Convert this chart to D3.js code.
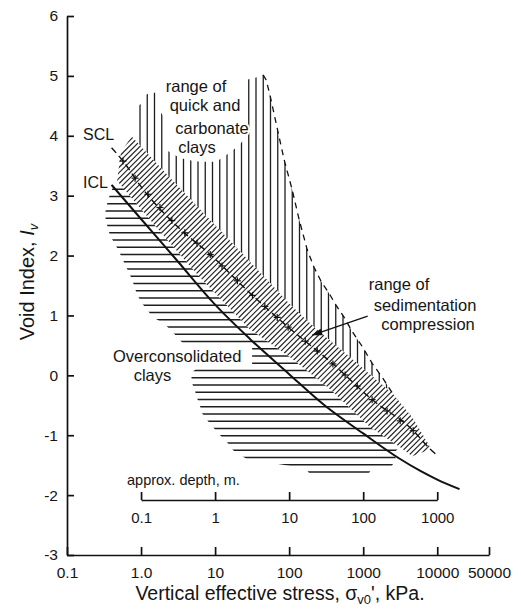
<!DOCTYPE html>
<html><head><meta charset="utf-8">
<script src="https://cdn.jsdelivr.net/npm/d3@7"></script>
<style>
body{margin:0;background:#fff}
svg{display:block}
text{font-family:"Liberation Sans",Arial,Helvetica,sans-serif;fill:#151515}
</style>
</head><body>
<svg id="c" width="521" height="610"></svg>
<script>
// ---------- data ----------
const xTicks = [0.1, 1, 10, 100, 1000, 10000, 50000];
const xTickLabels = ["0.1", "1.0", "10", "100", "1000", "10000", "50000"];
const yTicks = [-3, -2, -1, 0, 1, 2, 3, 4, 5, 6];
const depthTicks = [0.1, 1, 10, 100, 1000];
const depthTickLabels = ["0.1", "1", "10", "100", "1000"];

// Intrinsic compression line (stress kPa, void index)
const icl = [[0.4,3.18],[1,2.61],[3,1.93],[10,1.18],[30,0.6],[100,0.02],[300,-0.5],
             [1000,-0.97],[3000,-1.38],[6000,-1.6],[10000,-1.74],[20000,-1.9]];
// Sedimentation compression line
const scl = [[0.4,3.8],[0.577,3.57],[1,3.15],[3,2.5],[8.55,2.02],[31,1.35],[98,0.8],
             [400,0.18],[1300,-0.4],[4800,-0.93],[8000,-1.23],[10300,-1.35]];
const sclMarks = [0.57,0.83,1.24,1.8,2.6,3.9,5.7,8.6,12.4,20,32,47,69,97,165,240,390,570,830,1320,2100,3160,4740];
// range of sedimentation compression (band)
const bandUpper = [[0.748,3.988],[2.466,3.3],[6.27,2.767],[18.63,2.158],[55.4,1.54],[103.2,1.183],
                   [236.7,0.767],[667,0.3],[2543,-0.317],[4595,-0.7],[8043,-1.2]];
const bandLower = [[0.537,3.733],[0.474,3.25],[1.806,2.4],[6.27,1.633],[29.7,0.767],[103.2,0.3],
                   [358,-0.233],[1243,-0.867],[3162,-1.2],[4595,-1.35],[8043,-1.233]];
// range of quick and carbonate clays: upper outline and dashed right edge
const quickTop = [[0.856,3.883],[0.856,4.467],[1.0,4.533],[1.098,4.667],[1.323,4.717],[1.697,4.717],
                  [1.751,4.433],[1.983,4.333],[2.177,3.767],[2.624,3.7],[3.162,3.65],[4.056,3.6],
                  [6.27,3.567],[10,3.567],[12.83,3.633],[15.46,3.717],[19.22,3.8],[22.46,3.883],
                  [25.43,3.95],[25.83,4.933],[31.62,4.958],[38.11,4.983]];
const quickEdge = [[44.53,5.017],[48.9,4.933],[55.4,4.667],[68.8,4.133],[85.6,3.6],[109.8,3.1],
                   [136.5,2.6],[175.1,2.1],[217.7,1.8],[270.6,1.567],[347.1,1.367],[431.7,1.167],
                   [553.6,0.967],[710.1,0.733],[969,0.483],[1323,0.2],[1806,-0.033],[2543,-0.317]];
// overconsolidated clays: left outline (top to bottom) and lower right corner
const ocLeft = [[0.418,3.15],[0.358,2.933],[0.326,2.7],[0.3365,2.567],[0.381,2.333],[0.489,2.1],
                [0.608,1.85],[0.756,1.6],[0.883,1.35],[1.032,1.2],[1.205,1.1],[1.408,0.983],
                [2.11,0.85],[2.707,0.717],[3.695,0.533],[31.62,0.533],[31.62,0.15],[6.08,0.15],
                [4.74,0.033],[4.89,-0.133],[5.37,-0.267],[5.71,-0.383],[6.27,-0.517],[6.67,-0.633],
                [8.04,-0.767],[9.4,-0.867],[11.68,-1.0],[14.53,-1.117],[17.51,-1.25],[27.07,-1.4],
                [55.4,-1.458],[164.5,-1.55],[192.2,-1.65]];
const ocRight = [[1168,-1.65],[1323,-1.55],[2390,-1.517],[2792,-1.417],[2624,-1.283],[3365,-1.167]];
const arrowFrom = [1150, 0.99], arrowTo = [205, 0.67];

// ---------- scales ----------
const svg = d3.select("#c");
const x = d3.scaleLog().domain([0.1, 50000]).range([67, 489]);
const y = d3.scaleLinear().domain([-3, 6]).range([555, 16]);
const xd = d3.scaleLog().domain([0.1, 1000]).range([x(1), x(10000)]);
const pt = d => [x(d[0]), y(d[1])];
const poly = pts => "M" + pts.map(d => pt(d).join(",")).join("L") + "Z";
const line = d3.line().x(d => x(d[0])).y(d => y(d[1]));
const defs = svg.append("defs");
const ink = "#1e1e1e";

function clip(id, pts){
  defs.append("clipPath").attr("id", id).append("path").attr("d", poly(pts));
}
clip("quickClip", quickTop.concat(quickEdge, bandUpper.slice(0,9).reverse()));
clip("ocClip", ocLeft.concat(ocRight, bandUpper.slice().reverse()));
clip("bandClip", bandUpper.concat(bandLower.slice().reverse()));

// vertical hatch
const gq = svg.append("g").attr("clip-path","url(#quickClip)")
  .attr("stroke", ink).attr("stroke-width", 1.3);
for (let px = 140; px < 420; px += 7.25)
  gq.append("line").attr("x1", px).attr("x2", px).attr("y1", 60).attr("y2", 420);

// horizontal hatch
const go = svg.append("g").attr("clip-path","url(#ocClip)")
  .attr("stroke", ink).attr("stroke-width", 1.3);
for (let py = 189.25; py < 480; py += 7.25)
  go.append("line").attr("x1", 90).attr("x2", 430).attr("y1", py).attr("y2", py);

// band
svg.append("path").attr("d", poly(bandUpper.concat(bandLower.slice().reverse())))
  .attr("fill", "#fff");
const gb = svg.append("g").attr("clip-path","url(#bandClip)")
  .attr("stroke", ink).attr("stroke-width", 1.15);
for (let k = 200; k < 950; k += 5.4)
  gb.append("line").attr("x1", 90).attr("y1", k - 90).attr("x2", 460).attr("y2", k - 460);

// ICL
svg.append("path").attr("d", line.curve(d3.curveMonotoneX)(icl))
  .attr("fill","none").attr("stroke","#111").attr("stroke-width",2);
// SCL dashed + cross marks
svg.append("path").attr("d", d3.line().x(d=>x(d[0])).y(d=>y(d[1])).curve(d3.curveMonotoneX)(scl))
  .attr("fill","none").attr("stroke","#111").attr("stroke-width",1.4).attr("stroke-dasharray","7,4");
const sclInterp = s => {
  const lx = Math.log10(s);
  for (let i = 0; i < scl.length-1; i++){
    const a = Math.log10(scl[i][0]), b = Math.log10(scl[i+1][0]);
    if (lx >= a && lx <= b) return scl[i][1] + (scl[i+1][1]-scl[i][1])*(lx-a)/(b-a);
  }
  return scl[scl.length-1][1];
};
const gm = svg.append("g").attr("stroke","#111").attr("stroke-width",1.2);
sclMarks.forEach(s => {
  const cx = x(s), cy = y(sclInterp(s));
  gm.append("line").attr("x1",cx-3.5).attr("x2",cx+3.5).attr("y1",cy).attr("y2",cy);
  gm.append("line").attr("x1",cx).attr("x2",cx).attr("y1",cy-3.5).attr("y2",cy+3.5);
});
// dashed right edge of quick clay range
svg.append("path").attr("d", line.curve(d3.curveLinear)(quickEdge))
  .attr("fill","none").attr("stroke","#111").attr("stroke-width",1.3).attr("stroke-dasharray","6,5");

// arrow
const [ax1, ay1] = pt(arrowFrom), [ax2, ay2] = pt(arrowTo);
svg.append("line").attr("x1",ax1).attr("y1",ay1).attr("x2",ax2).attr("y2",ay2)
  .attr("stroke","#111").attr("stroke-width",1.3);
{
  const ang = Math.atan2(ay2-ay1, ax2-ax1), L = 10, Wd = 3.5;
  const bx = ax2 - L*Math.cos(ang), by = ay2 - L*Math.sin(ang);
  const nx = -Math.sin(ang)*Wd, ny = Math.cos(ang)*Wd;
  svg.append("path").attr("d",`M${ax2},${ay2}L${bx+nx},${by+ny}L${bx-nx},${by-ny}Z`).attr("fill","#111");
}

// labels
function label(t, px, py, anchor, size, halo){
  const el = svg.append("text").attr("x",px).attr("y",py).attr("text-anchor",anchor||"start")
    .attr("font-size", size||16.5).text(t);
  if (halo) el.attr("stroke","#fff").attr("stroke-width",4).attr("paint-order","stroke");
  return el;
}
label("range of", 196, 91.5, "middle", 16.5, true);
label("quick and", 205, 111, "middle", 16.5, true);
label("carbonate", 212, 134, "middle", 16.5, true);
label("clays", 197, 152.5, "middle", 16.5, true);
label("SCL", 83, 140, "start", 16);
label("ICL", 83, 188, "start", 16);
label("Overconsolidated", 113, 362, "start", 16.5);
label("clays", 152.5, 380.5, "middle", 16.5);
label("range of", 399, 290, "middle", 16.5);
label("sedimentation", 425, 310.5, "middle", 16.5);
label("compression", 428, 330, "middle", 16.5);
label("approx. depth, m.", 127, 485, "start", 14.5);

// axes
function styleAxis(g, fs){
  g.select(".domain").attr("stroke","#111").attr("stroke-width",1.7);
  g.selectAll(".tick line").attr("stroke","#111").attr("stroke-width",1.7);
  g.selectAll(".tick text").attr("font-size",fs).attr("fill","#151515")
    .attr("font-family","Liberation Sans, Arial, sans-serif");
}
const gx = svg.append("g").attr("transform",`translate(0,${y(-3)})`)
  .call(d3.axisBottom(x).tickValues(xTicks).tickFormat((d,i)=>xTickLabels[i])
    .tickSizeInner(-8).tickSizeOuter(0).tickPadding(12));
styleAxis(gx, 15.5);
const gy = svg.append("g").attr("transform",`translate(${x(0.1)},0)`)
  .call(d3.axisLeft(y).tickValues(yTicks).tickFormat(d3.format("d"))
    .tickSizeInner(-7).tickSizeOuter(0).tickPadding(9));
styleAxis(gy, 15.5);
gy.selectAll(".tick text").text(d => d < 0 ? "-" + Math.abs(d) : d);
const gd = svg.append("g").attr("transform",`translate(0,500)`)
  .call(d3.axisBottom(xd).tickValues(depthTicks).tickFormat((d,i)=>depthTickLabels[i])
    .tickSizeInner(-8).tickSizeOuter(0).tickPadding(12));
styleAxis(gd, 15);
gd.select(".domain").attr("stroke-width",1.5);

// axis titles
const tx = svg.append("text").attr("x", 280).attr("y", 600).attr("text-anchor","middle").attr("font-size",19.5);
tx.append("tspan").text("Vertical effective stress, \u03C3");
tx.append("tspan").attr("font-size",13).attr("dy",4).text("v0");
tx.append("tspan").attr("dy",-4).text("', kPa.");
const ty = svg.append("text").attr("transform","translate(34,282) rotate(-90)")
  .attr("text-anchor","middle").attr("font-size",20);
ty.append("tspan").text("Void Index, ");
ty.append("tspan").attr("font-style","italic").text("I");
ty.append("tspan").attr("font-size",13).attr("font-style","italic").attr("dy",4).text("v");
</script>
</body></html>
